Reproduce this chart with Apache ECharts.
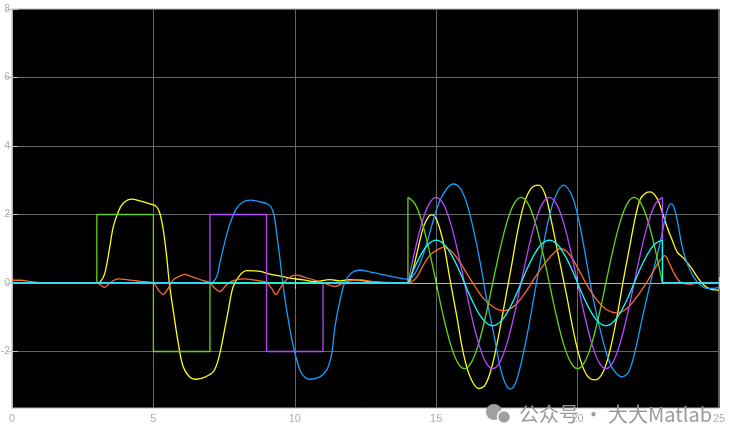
<!DOCTYPE html>
<html><head><meta charset="utf-8">
<script src="https://cdn.jsdelivr.net/npm/echarts@6/dist/echarts.min.js"></script>
<style>html,body{margin:0;padding:0;background:#fff}#c{width:733px;height:444px}</style>
</head><body><div id="c"></div>
<script>
// ---- Data ----
const xTicks = [0, 5, 10, 15, 20, 25];
const yTicks = [-2, 0, 2, 4, 6, 8];

// reference signals: piecewise parts
const ref1Step = [[0,0],[3,0],[3,2],[5,2],[5,-2],[7,-2],[7,0],[14,0],[14,2.5]];
const ref2Step = [[0,0],[7,0],[7,2],[9,2],[9,-2],[11,-2],[11,0],[14,0]];
const ref3Step = [[0,0],[14,0]];
const waveTimes = [14,14.25,14.5,14.75,15,15.25,15.5,15.75,16,16.25,16.5,16.75,17,17.25,17.5,17.75,18,18.25,18.5,18.75,19,19.25,19.5,19.75,20,20.25,20.5,20.75,21,21.25,21.5,21.75,22,22.25,22.5,22.75,23];
const ref1Wave = [2.5,2.31,1.77,0.96,0,-0.96,-1.77,-2.31,-2.5,-2.31,-1.77,-0.96,0,0.96,1.77,2.31,2.5,2.31,1.77,0.96,0,-0.96,-1.77,-2.31,-2.5,-2.31,-1.77,-0.96,0,0.96,1.77,2.31,2.5,2.31,1.77,0.96,0];
const ref2Wave = [0,0.96,1.77,2.31,2.5,2.31,1.77,0.96,0,-0.96,-1.77,-2.31,-2.5,-2.31,-1.77,-0.96,0,0.96,1.77,2.31,2.5,2.31,1.77,0.96,0,-0.96,-1.77,-2.31,-2.5,-2.31,-1.77,-0.96,0,0.96,1.77,2.31,2.5];
const ref3Wave = [0,0.48,0.88,1.15,1.25,1.15,0.88,0.48,0,-0.48,-0.88,-1.15,-1.25,-1.15,-0.88,-0.48,0,0.48,0.88,1.15,1.25,1.15,0.88,0.48,0,-0.48,-0.88,-1.15,-1.25,-1.15,-0.88,-0.48,0,0.48,0.88,1.15,1.25];
const ref1Tail = [[23,0],[25,0]];
const ref2Tail = [[23,2.5],[23,0],[25,0]];
const ref3Tail = [[23,1.25],[23,0],[25,0]];

// responses [time, value]
const resp1 = [[0,0],[3,0],[3.12,0.03],[3.28,0.28],[3.46,1.06],[3.58,1.64],[3.76,2.08],[3.93,2.33],[4.23,2.45],[4.52,2.40],[4.87,2.31],[5.11,2.23],[5.23,2.03],[5.35,1.55],[5.47,0.77],[5.56,0.02],[5.70,-0.79],[5.88,-1.76],[6.05,-2.44],[6.29,-2.75],[6.53,-2.81],[6.82,-2.75],[7.12,-2.59],[7.29,-2.25],[7.47,-1.57],[7.65,-0.79],[7.82,-0.11],[8.06,0.23],[8.30,0.36],[8.77,0.34],[9.12,0.26],[9.47,0.21],[9.83,0.14],[10.3,0.09],[10.7,0.04],[11.25,0.1],[11.6,0.06],[11.95,0.1],[12.3,0.08],[12.77,0.03],[13.3,0.0],[14,0],
[14.12,0.2],[14.32,0.87],[14.55,1.64],[14.73,1.94],[14.85,1.99],[15.02,1.84],[15.26,1.16],[15.49,0.09],[15.73,-0.98],[15.96,-2.05],[16.2,-2.74],[16.5,-3.08],[16.73,-2.98],[16.97,-2.44],[17.2,-1.57],[17.44,-0.5],[17.68,0.58],[17.91,1.64],[18.15,2.42],[18.39,2.79],[18.62,2.86],[18.86,2.57],[19.09,1.74],[19.33,0.77],[19.62,-0.4],[19.85,-1.4],[20.1,-2.25],[20.35,-2.72],[20.63,-2.83],[20.9,-2.6],[21.15,-1.95],[21.4,-0.95],[21.6,0],[21.85,1.1],[22.05,1.95],[22.22,2.45],[22.4,2.62],[22.57,2.66],[22.81,2.47],[22.99,2.08],[23.16,1.64],[23.34,1.26],[23.52,0.91],[23.75,0.72],[23.99,0.48],[24.23,0.18],[24.46,-0.06],[24.7,-0.18],[25,-0.21]];
const resp2 = [[0,0],[7,0],[7.1,0.03],[7.24,0.18],[7.35,0.58],[7.53,1.21],[7.71,1.74],[7.94,2.18],[8.18,2.37],[8.41,2.42],[8.77,2.37],[9.06,2.3],[9.16,2.22],[9.26,2.0],[9.36,1.45],[9.48,0.67],[9.59,-0.11],[9.77,-1.08],[9.95,-1.86],[10.18,-2.54],[10.36,-2.76],[10.54,-2.81],[10.89,-2.74],[11.12,-2.55],[11.22,-2.35],[11.31,-2.05],[11.42,-1.28],[11.6,-0.5],[11.78,0.04],[12.01,0.30],[12.31,0.38],[12.78,0.30],[13.49,0.18],[14.02,0.11],
[14.2,0.22],[14.43,0.58],[14.67,1.16],[14.9,1.84],[15.14,2.42],[15.38,2.76],[15.61,2.89],[15.85,2.76],[16.08,2.33],[16.32,1.55],[16.56,0.58],[16.79,-0.5],[17.03,-1.47],[17.26,-2.44],[17.44,-2.93],[17.62,-3.1],[17.8,-2.93],[18.03,-2.25],[18.27,-1.28],[18.5,-0.2],[18.74,0.87],[18.97,1.84],[19.21,2.52],[19.5,2.86],[19.8,2.55],[20.05,1.8],[20.3,0.7],[20.55,-0.45],[20.8,-1.37],[21.04,-2.1],[21.27,-2.54],[21.57,-2.74],[21.81,-2.59],[22.04,-1.96],[22.28,-1.05],[22.46,-0.4],[22.63,0.2],[22.81,0.8],[22.95,1.3],[23.1,1.9],[23.2,2.2],[23.3,2.31],[23.4,2.23],[23.52,1.84],[23.7,1.06],[23.87,0.58],[24.1,0.18],[24.34,-0.06],[24.58,-0.16],[24.8,-0.16],[25,-0.13]];
const resp3 = [[0,0.08],[0.3,0.08],[0.6,0.05],[1.0,0.01],[1.5,0],[3,0],[3.12,-0.05],[3.28,-0.13],[3.46,0],[3.76,0.12],[4.05,0.1],[4.52,0.05],[5.0,0],[5.17,-0.2],[5.35,-0.33],[5.52,-0.16],[5.7,0.09],[5.94,0.2],[6.11,0.25],[6.41,0.17],[6.76,0.07],[7.0,0.01],[7.18,-0.16],[7.35,-0.25],[7.59,-0.05],[7.82,0.07],[8.18,0.12],[8.53,0.09],[9.0,0.01],[9.18,-0.16],[9.33,-0.34],[9.48,-0.16],[9.72,0.11],[10.07,0.23],[10.3,0.18],[10.66,0.09],[11.0,0.01],[11.25,-0.07],[11.42,-0.1],[11.66,-0.03],[11.95,0.07],[12.3,0.09],[12.8,0.04],[13.5,0.01],[14,0],
[14.12,0.03],[14.32,0.18],[14.55,0.53],[14.79,0.82],[15.02,0.96],[15.26,1.04],[15.49,0.96],[15.79,0.67],[16.08,0.28],[16.38,-0.11],[16.67,-0.45],[17.03,-0.71],[17.38,-0.81],[17.73,-0.69],[18.09,-0.35],[18.44,0.09],[18.8,0.53],[19.15,0.87],[19.39,1.0],[19.62,0.92],[19.98,0.48],[20.33,-0.06],[20.69,-0.5],[21.04,-0.79],[21.4,-0.87],[21.75,-0.74],[22.1,-0.4],[22.46,0.04],[22.81,0.53],[22.99,0.74],[23.08,0.8],[23.22,0.62],[23.4,0.3],[23.64,0.02],[23.93,-0.03],[24.3,0],[25,0]];

// ---- Styles ----
const C = {yellow:'#ffff11', blue:'#139fff', orange:'#ff6929', green:'#64d413', purple:'#b746ff', cyan:'#0fffff'};
const LW = 1.3;
const zip = (ts, vs) => ts.map((t, i) => [t, vs[i]]);

function line(data, color, smooth) {
  return {type:'line', data:data, showSymbol:false, symbol:'none', smooth:smooth ? 0.35 : false,
    lineStyle:{color:color, width:LW}, itemStyle:{color:color}, clip:true, animation:false, silent:true};
}

const series = [
  line(resp1, C.yellow, true),
  line(resp2, C.blue, true),
  line(resp3, C.orange, true),
  line(ref1Step, C.green, false), line(zip(waveTimes, ref1Wave), C.green, true), line(ref1Tail, C.green, false),
  line(ref2Step, C.purple, false), line(zip(waveTimes, ref2Wave), C.purple, true), line(ref2Tail, C.purple, false),
  line(ref3Step, C.cyan, false), line(zip(waveTimes, ref3Wave), C.cyan, true), line(ref3Tail, C.cyan, false)
];

const fontFam = '"Liberation Sans", Arial, sans-serif';
const gridLine = {show:true, lineStyle:{color:'#666666', width:1}};
const tickStyle = {show:true, inside:true, length:6, lineStyle:{color:'#c4c4c4', width:1}};
const axisLineStyle = {show:true, lineStyle:{color:'#b4b4b4', width:1}};

const option = {
  backgroundColor:'#ffffff',
  animation:false,
  grid:{left:12, right:14, top:9, bottom:36, show:true, backgroundColor:'#000000', borderColor:'#b4b4b4', borderWidth:1,
        containLabel:false, outerBoundsMode:'none'},
  xAxis:[
    {type:'value', position:'bottom', min:0, max:25, interval:5, axisLine:axisLineStyle, axisTick:tickStyle,
     axisLabel:{customValues:xTicks, margin:5, color:'#adadad', fontSize:11, fontFamily:fontFam}, splitLine:gridLine},
    {type:'value', position:'top', min:0, max:25, interval:5, axisLine:axisLineStyle, axisTick:tickStyle,
     axisLabel:{show:false}, splitLine:{show:false}}
  ],
  yAxis:[
    {type:'value', position:'left', min:-3.65, max:8, axisLine:axisLineStyle,
     axisTick:Object.assign({customValues:yTicks}, tickStyle),
     axisLabel:{customValues:yTicks, margin:2, color:'#adadad', fontSize:10.5, fontFamily:fontFam}, splitLine:gridLine},
    {type:'value', position:'right', min:-3.65, max:8, axisLine:axisLineStyle,
     axisTick:Object.assign({customValues:yTicks}, tickStyle),
     axisLabel:{show:false}, splitLine:{show:false}}
  ],
  series:series,
  graphic:[
    {type:'circle', shape:{cx:494, cy:412, r:8}, style:{fill:'#a0a0a0'}, z:100},
    {type:'circle', shape:{cx:504, cy:417, r:6.5}, style:{fill:'#a0a0a0', stroke:'#ffffff', lineWidth:1.5}, z:101},
    {type:'text', left:519, top:404, z:102, style:{text:'公众号 · 大大Matlab', fill:'#9a9a9a',
      font:'20px "Noto Sans CJK SC", "Noto Sans", sans-serif'}}
  ]
};
const chart = echarts.init(document.getElementById('c'));
chart.setOption(option);
</script>
</body></html>
